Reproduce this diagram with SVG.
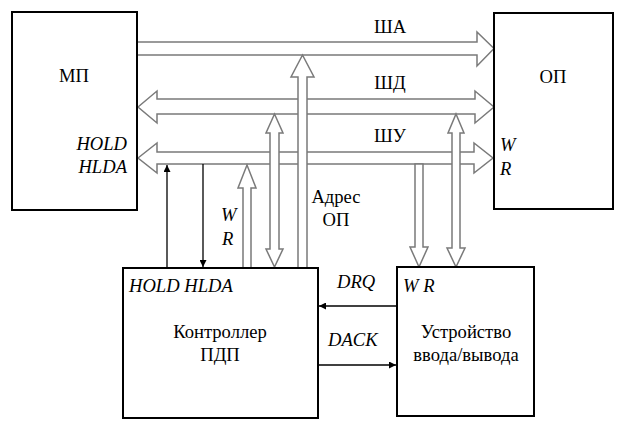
<svg xmlns="http://www.w3.org/2000/svg" width="628" height="431" viewBox="0 0 628 431">
<defs>
<style>
.box{fill:#fff;stroke:#000;stroke-width:2}
.bus{fill:#fff;stroke:#7a7a7a;stroke-width:1.5;stroke-linejoin:miter}
.sig{fill:none;stroke:#000;stroke-width:1.3}
text{font-family:"Liberation Serif","Times New Roman",serif;font-size:18.6px;fill:#000}
.i{font-style:italic}
.m{text-anchor:middle}
</style>
<marker id="ah" viewBox="0 0 10 10" refX="10" refY="5" markerWidth="9" markerHeight="7" markerUnits="userSpaceOnUse" orient="auto">
<path d="M0,0 L10,5 L0,10 z" fill="#000"/>
</marker>
</defs>
<rect width="628" height="431" fill="#fff"/>
<g id="connectors">
<polygon class="bus" points="137,42 477,42 477,32 494,48.5 477,66 477,55 137,55"/>
<polygon class="bus" points="138,107 157,91 157,99 475,99 475,91 494,107 475,123 475,114 157,114 157,123"/>
<polygon class="bus" points="138,158 157,143 157,152 474,152 474,143 493,158 474,173 474,164 157,164 157,173"/>
<path class="bus" d="M298,268 V77 H291 L302.5,55 L314,77 H307 V268"/>
<path class="bus" d="M274.5,114 L283,133 H279 V249 H283 L274.5,267 L266,249 H270 V133 H266 Z"/>
<path class="bus" d="M243,268 V188 H238 L247,165 L256,188 H251 V268"/>
<path class="bus" d="M415,164 V247 H410 L419,267 L428,247 H423 V164 Z"/>
<path class="bus" d="M456,114 L464,133 H460 V248 H465 L456,267 L447,248 H452 V133 H448 Z"/>
<line class="sig" x1="167" y1="268" x2="167" y2="165" marker-end="url(#ah)"/>
<line class="sig" x1="203" y1="164" x2="203" y2="267" marker-end="url(#ah)"/>
<line class="sig" x1="397" y1="306" x2="319" y2="306" marker-end="url(#ah)"/>
<line class="sig" x1="318" y1="365" x2="396" y2="365" marker-end="url(#ah)"/>
<text x="390" y="33" class="m">ША</text>
<text x="390" y="89" class="m">ШД</text>
<text x="390" y="142" class="m">ШУ</text>
<text x="221" y="221" class="i">W</text>
<text x="222" y="245" class="i">R</text>
<text x="336" y="203" class="m">Адрес</text>
<text x="336" y="226" class="m">ОП</text>
<text x="337" y="288" class="i">DRQ</text>
<text x="328" y="346" class="i">DACK</text>
</g>
<g id="mp">
<rect class="box" x="12" y="12" width="125" height="198"/>
<text x="74" y="82" class="m">МП</text>
<text x="127" y="150" class="i" text-anchor="end">HOLD</text>
<text x="127" y="173" class="i" text-anchor="end">HLDA</text>
</g>
<g id="op">
<rect class="box" x="494" y="13" width="119" height="196"/>
<text x="553" y="83" class="m">ОП</text>
<text x="500" y="151" class="i">W</text>
<text x="500" y="175" class="i">R</text>
</g>
<g id="controller">
<rect class="box" x="123" y="268" width="195" height="150"/>
<text x="129" y="292" class="i">HOLD HLDA</text>
<text x="220" y="338" class="m">Контроллер</text>
<text x="220" y="361" class="m">ПДП</text>
</g>
<g id="io">
<rect class="box" x="397" y="267" width="137" height="149"/>
<text x="403" y="292" class="i">W R</text>
<text x="466" y="338" class="m">Устройство</text>
<text x="466" y="361" class="m">ввода/вывода</text>
</g>
</svg>
